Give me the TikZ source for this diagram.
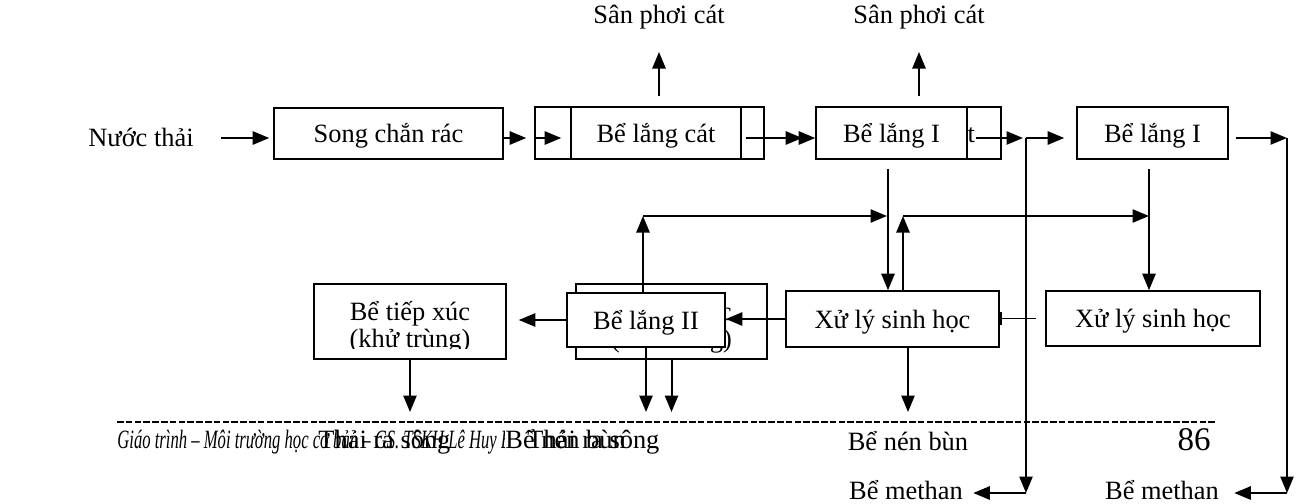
\documentclass[tikz,border=0pt]{standalone}
\usepackage{fontspec}
\setmainfont{Liberation Serif}
\newfontfamily\footfont[FakeStretch=0.63]{Liberation Serif}
\usetikzlibrary{arrows.meta}
\newcommand{\pxu}{0.4545pt}

\begin{document}
\begin{tikzpicture}[x=0.4545pt, y=-0.4545pt,
    font=\fontsize{12}{12.3}\selectfont,
    box/.style={draw, line width=0.7pt, fill=white, inner sep=0pt, align=center,
      text height=11pt, text depth=2.6pt},
    txt/.style={inner sep=0pt},
    pil/.style={line width=0.9pt, -{Triangle[length=7.5pt,width=6pt]}}]
  \useasboundingbox (0,0) rectangle (1304,503);

  % upper line
  \node[txt] (nuoc) at (141,137) {Nước thải};
  \node[box, minimum width=229*\pxu, minimum height=51*\pxu] (song) at (388.5,133.5) {Song chắn rác};
  \node[box, minimum width=229*\pxu, minimum height=52*\pxu] (catA) at (649.5,133) {};
  \node[box, minimum width=170*\pxu, minimum height=52*\pxu] (catAi) at (656,133) {Bể lắng cát};
  \node[box, minimum width=171*\pxu, minimum height=52*\pxu] (catB) at (915.5,133) {Bể lắng cát};
  \node[box, minimum width=151*\pxu, minimum height=52*\pxu] (lang1a) at (891.5,133) {Bể lắng I};
  \node[box, minimum width=151*\pxu, minimum height=52*\pxu] (lang1b) at (1152.5,133) {Bể lắng I};
  \node[txt] (san1) at (659,17) {Sân phơi cát};
  \node[txt] (san2) at (919,17) {Sân phơi cát};

  % lower line
  \node[box, minimum width=192*\pxu, minimum height=75*\pxu] (tx) at (410,321.5) {};
  \begin{scope}
    \clip (tx.north west) rectangle ([yshift=11*\pxu]tx.south east);
    \node[txt, anchor=base] at (410,320) {Bể tiếp xúc};
    \node[txt, anchor=base] at (410,347) {(khử trùng)};
  \end{scope}
  \node[box, minimum width=191*\pxu, minimum height=75*\pxu] (txb) at (671.5,321.5) {};
  \begin{scope}
    \clip (txb.north west) rectangle ([yshift=7*\pxu]txb.south east);
    \node[txt, anchor=base] at (671.5,320) {Bể tiếp xúc};
    \node[txt, anchor=base] at (671.5,347) {(khử trùng)};
  \end{scope}
  \node[box, minimum width=158*\pxu, minimum height=54*\pxu] (lang2) at (646,320) {Bể lắng II};
  \node[box, minimum width=213*\pxu, minimum height=56*\pxu] (xla) at (892.5,319) {Xử lý sinh học};
  \node[box, minimum width=214*\pxu, minimum height=55*\pxu] (xlb) at (1153,318.5) {Xử lý sinh học};

  % page foot
  \draw[dash pattern=on 3pt off 1pt, line width=0.7pt] (117,422) -- (1215,422);
  \node[txt, anchor=base west, font=\fontsize{12}{12.3}\footfont\itshape] (foot) at (117,448)
    {Giáo trình – Môi trường học cơ bản – GS. TSKH Lê Huy Bá};
  \node[txt, anchor=base west] (thai1) at (318,448) {Thải ra sông};
  \node[txt, anchor=base west, fill=white, inner xsep=0pt] (nen1) at (505,448) {Bể nén bùn};
  \node[txt, anchor=base west] (thai2) at (527,448) {Thải ra sông};
  \node[txt] (nen2) at (908,441) {Bể nén bùn};
  \node[txt, anchor=base east, font=\fontsize{15}{16}\selectfont] (trang) at (1211,450) {86};
  \node[txt] (methan1) at (906,490) {Bể methan};
  \node[txt] (methan2) at (1162,490) {Bể methan};

  \coordinate (r1) at (0,138);
  \coordinate (a1) at (0,52);
  \coordinate (b1) at (0,412);
  \coordinate (m1) at (0,493);
  \coordinate (j1) at (1026,138);
  \coordinate (j2) at (1287,138);
  \coordinate (c1) at (888,216);
  \coordinate (c2) at (643,216);
  \coordinate (c3) at (903,216);
  \coordinate (c4) at (1149,216);
  \coordinate (c5) at (908,412);

  % connectors
  \draw[pil, shorten <=27*\pxu, shorten >=4*\pxu] (nuoc.east |- r1) -- (song.west |- r1);
  \draw[pil, shorten >=8*\pxu] (song.east |- r1) -- (catA.west |- r1);
  \draw[pil, shorten >=9*\pxu] (catA.west |- r1) -- (catAi.west |- r1);
  \draw[pil, shorten <=4*\pxu, shorten >=13*\pxu] (catAi.east |- r1) -- (lang1a.west |- r1);
  \draw[pil] (catA.east |- r1) -- (lang1a.west |- r1);
  \draw[pil, shorten <=8*\pxu, shorten >=3*\pxu] (lang1a.east |- r1) -- (j1);
  \draw[pil, shorten >=12*\pxu] (j1) -- (lang1b.west |- r1);
  \draw[pil, shorten <=7*\pxu] (lang1b.east |- r1) -- (j2);
  \draw[pil] (j1) -- (j1 |- m1);
  \draw[pil, shorten >=10*\pxu] (j1 |- m1) -- (methan1.east |- m1);
  \draw[pil] (j2) -- (j2 |- m1);
  \draw[pil, shorten >=15*\pxu] (j2 |- m1) -- (methan2.east |- m1);

  \draw[pil, shorten <=10*\pxu] (catA.north -| san1) -- (san1 |- a1);
  \draw[pil, shorten <=10*\pxu] (catB.north -| san2) -- (san2 |- a1);

  \draw[pil, shorten <=9*\pxu] (lang1a.south -| c1) -- (xla.north -| c1);
  \draw[pil] (lang2.north -| c2) -- (c2);
  \draw[pil, shorten >=1*\pxu] (c2) -- (c1);
  \draw[pil] (xla.north -| c3) -- (c3);
  \draw[pil] (c3) -- (c4);
  \draw[pil, shorten <=9*\pxu] (lang1b.south -| c4) -- (xlb.north -| c4);

  \draw[pil] (xla.west) -- (lang2.east |- xla.west);
  \draw[pil, shorten >=12*\pxu] (lang2.west) -- (tx.east |- lang2.west);
  \draw[line width=0.9pt, -{Bar[width=6pt]}, shorten <=9*\pxu] (xlb.west) -- (xla.east |- xlb.west);

  \draw[pil] (tx.south) -- (tx.south |- b1);
  \draw[pil] (lang2.south) -- (lang2.south |- b1);
  \draw[pil] (txb.south) -- (txb.south |- b1);
  \draw[pil] (xla.south -| c5) -- (c5);
\end{tikzpicture}
\end{document}
